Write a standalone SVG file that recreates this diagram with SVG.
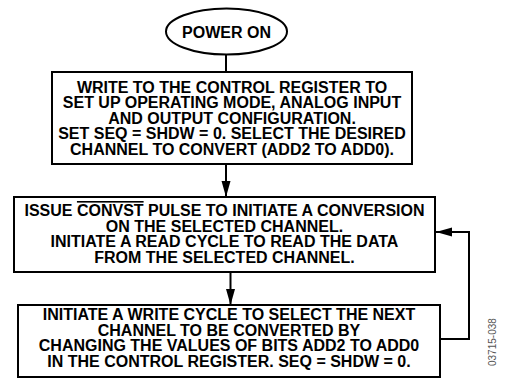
<svg xmlns="http://www.w3.org/2000/svg" width="508" height="379" viewBox="0 0 508 379">
<style>
.box{fill:#fff;stroke:#000;stroke-width:2}
.t{font-family:"Liberation Sans",Arial,sans-serif;font-weight:bold;font-size:16px;fill:#000;text-anchor:middle}
.c{fill:none;stroke:#000;stroke-width:2}
.id{font-family:"Liberation Sans",Arial,sans-serif;font-size:10px;fill:#555}
</style>
<defs>
<marker id="ah" markerUnits="userSpaceOnUse" markerWidth="17" markerHeight="10" refX="16" refY="4.5" orient="auto">
<path d="M0,0 L16,4.5 L0,9 z" fill="#000"/>
</marker>
</defs>
<g id="connectors">
<line class="c" x1="226" y1="54" x2="226" y2="72"/>
<line class="c" x1="226" y1="164" x2="226" y2="197" marker-end="url(#ah)"/>
<line class="c" x1="230.5" y1="272" x2="230.5" y2="305" marker-end="url(#ah)"/>
<polyline class="c" points="440,339 469,339 469,232 436,232" marker-end="url(#ah)"/>
</g>
<g id="power-on">
<ellipse class="box" cx="226.5" cy="31.5" rx="60.5" ry="23"/>
<text class="t" x="226.5" y="37.5">POWER ON</text>
</g>
<g id="write-control">
<rect class="box" x="52" y="72" width="360" height="92"/>
<text class="t" x="232" y="92.7">WRITE TO THE CONTROL REGISTER TO</text>
<text class="t" x="232" y="108.2">SET UP OPERATING MODE, ANALOG INPUT</text>
<text class="t" x="232" y="123.7">AND OUTPUT CONFIGURATION.</text>
<text class="t" x="232" y="139.2">SET SEQ = SHDW = 0. SELECT THE DESIRED</text>
<text class="t" x="232" y="154.7">CHANNEL TO CONVERT (ADD2 TO ADD0).</text>
</g>
<g id="issue-convst">
<rect class="box" x="14" y="197" width="421" height="75"/>
<text class="t" x="224.5" y="216">ISSUE <tspan text-decoration="overline">CONVST</tspan> PULSE TO INITIATE A CONVERSION</text>
<text class="t" x="224.5" y="231.5">ON THE SELECTED CHANNEL.</text>
<text class="t" x="224.5" y="247">INITIATE A READ CYCLE TO READ THE DATA</text>
<text class="t" x="224.5" y="262.5">FROM THE SELECTED CHANNEL.</text>
</g>
<g id="write-cycle">
<rect class="box" x="18" y="305" width="422" height="72"/>
<text class="t" x="229" y="320.3">INITIATE A WRITE CYCLE TO SELECT THE NEXT</text>
<text class="t" x="229" y="335.8">CHANNEL TO BE CONVERTED BY</text>
<text class="t" x="229" y="351.3">CHANGING THE VALUES OF BITS ADD2 TO ADD0</text>
<text class="t" x="229" y="366.8">IN THE CONTROL REGISTER. SEQ = SHDW = 0.</text>
</g>
<text class="id" transform="translate(496,366) rotate(-90)">03715-038</text>
</svg>
